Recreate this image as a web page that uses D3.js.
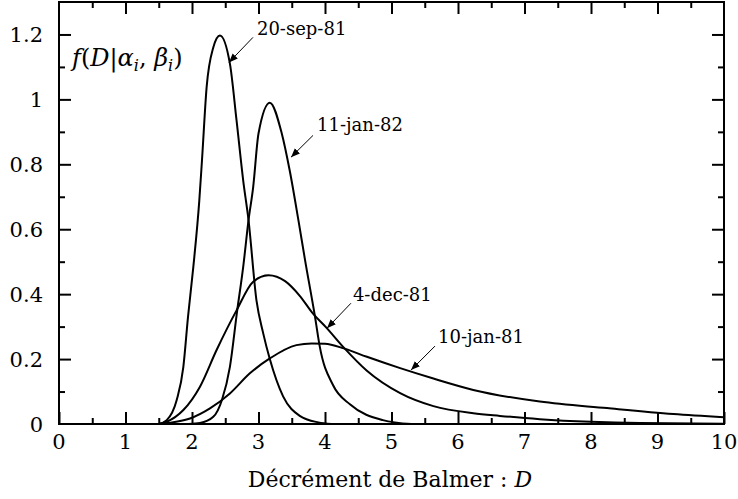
<!DOCTYPE html>
<html>
<head>
<meta charset="utf-8">
<script src="https://cdn.jsdelivr.net/npm/d3@7"></script>
<style>
  html, body { margin: 0; padding: 0; background: #fff; }
  .curve { fill: none; stroke: #000; stroke-width: 2; stroke-linejoin: round; }
</style>
</head>
<body>
<div id="chart"></div>
<script>
// Distributions du décrément de Balmer
const sep81 = [
  [1.5, 0], [1.62, 0.012], [1.77, 0.074], [1.87, 0.176], [1.94, 0.33], [2.02, 0.484],
  [2.11, 0.689], [2.15, 0.812], [2.22, 1.038], [2.32, 1.16], [2.42, 1.197], [2.57, 1.11],
  [2.67, 0.935], [2.77, 0.75], [2.85, 0.628], [2.97, 0.38], [3.07, 0.28], [3.17, 0.2],
  [3.37, 0.085], [3.62, 0.025], [3.9, 0.005], [4.1, 0]
];
const jan82 = [
  [1.95, 0], [2.12, 0.003], [2.32, 0.022], [2.45, 0.074], [2.57, 0.176], [2.68, 0.35],
  [2.77, 0.484], [2.85, 0.628], [2.92, 0.73], [3.0, 0.895], [3.17, 0.99], [3.35, 0.895],
  [3.47, 0.78], [3.6, 0.628], [3.7, 0.505], [3.85, 0.33], [3.92, 0.24], [4.12, 0.12],
  [4.38, 0.06], [4.87, 0.012], [5.3, 0]
];
const dec81 = [
  [1.5, 0], [1.62, 0.007], [1.87, 0.043], [2.12, 0.115], [2.37, 0.228], [2.67, 0.35],
  [2.92, 0.438], [3.15, 0.458], [3.4, 0.44], [3.62, 0.395], [3.82, 0.34], [4.02, 0.297],
  [4.28, 0.236], [4.63, 0.164], [5.13, 0.095], [5.63, 0.055], [6.23, 0.033], [6.63, 0.025],
  [7.23, 0.015], [8.0, 0.007], [8.74, 0.003], [10, 0.001]
];
const jan81 = [
  [1.5, 0], [1.67, 0.004], [1.97, 0.017], [2.27, 0.048], [2.57, 0.094], [2.87, 0.156],
  [3.17, 0.202], [3.57, 0.243], [3.8, 0.248], [4.0, 0.247], [4.28, 0.233], [4.63, 0.207],
  [5.13, 0.172], [5.63, 0.14], [6.23, 0.105], [7.23, 0.069], [8.24, 0.049], [9.24, 0.031],
  [10, 0.021]
];
const seriesList = [sep81, jan82, dec81, jan81];

// étiquettes : texte, pointe de flèche, queue de flèche, début du texte (unités des données)
const labels = ["20-sep-81", "11-jan-82", "4-dec-81", "10-jan-81"];
const arrowTips = [[2.556, 1.114], [3.489, 0.822], [4.03, 0.295], [5.293, 0.166]];
const arrowTails = [[2.917, 1.191], [3.82, 0.889], [4.39, 0.372], [5.654, 0.24]];
const labelPos = [[2.977, 1.197], [3.88, 0.902], [4.42, 0.379], [5.70, 0.249]];

const xTicks = d3.range(0, 11, 1);
const xMinor = d3.range(0.5, 10, 1);
const yTicks = [0, 0.2, 0.4, 0.6, 0.8, 1, 1.2];
const yMinor = [0.1, 0.3, 0.5, 0.7, 0.9, 1.1, 1.3];

const serif = "'DejaVu Serif', serif";
const margin = { top: 2, right: 14, bottom: 75, left: 59 };
const width = 738 - margin.left - margin.right;
const height = 499 - margin.top - margin.bottom;

const root = d3.select("#chart")
  .append("svg")
  .attr("width", 738)
  .attr("height", 499)
  .style("font-family", serif);

const svg = root.append("g")
  .attr("transform", `translate(${margin.left},${margin.top})`);

const x = d3.scaleLinear().domain([0, 10]).range([0, width]);
const y = d3.scaleLinear().domain([0, 1.3]).range([height, 0]);

// flèche
svg.append("defs").append("marker")
  .attr("id", "arrow")
  .attr("viewBox", "0 0 10 10")
  .attr("refX", 10)
  .attr("refY", 5)
  .attr("markerWidth", 9)
  .attr("markerHeight", 9)
  .attr("markerUnits", "userSpaceOnUse")
  .attr("orient", "auto")
  .append("path")
  .attr("d", "M0,1 L10,5 L0,9 Z")
  .attr("fill", "#000");

// axes (graduations intérieures sur les quatre côtés)
const major = 12, minor = 6;
const tickStyle = g => {
  g.select(".domain").remove();
  g.selectAll(".tick line").attr("stroke", "#000").attr("stroke-width", 2);
};

svg.append("g")
  .attr("transform", `translate(0,${height})`)
  .call(d3.axisTop(x).tickValues(xTicks).tickSize(major).tickFormat(""))
  .call(tickStyle);
svg.append("g")
  .attr("transform", `translate(0,${height})`)
  .call(d3.axisTop(x).tickValues(xMinor).tickSize(minor).tickFormat(""))
  .call(tickStyle);
svg.append("g")
  .call(d3.axisBottom(x).tickValues(xTicks.slice(1, -1)).tickSize(major).tickFormat(""))
  .call(tickStyle);
svg.append("g")
  .call(d3.axisBottom(x).tickValues(xMinor).tickSize(minor).tickFormat(""))
  .call(tickStyle);

svg.append("g")
  .call(d3.axisRight(y).tickValues(yTicks.slice(1)).tickSize(major).tickFormat(""))
  .call(tickStyle);
svg.append("g")
  .call(d3.axisRight(y).tickValues(yMinor.slice(0, -1)).tickSize(minor).tickFormat(""))
  .call(tickStyle);
svg.append("g")
  .attr("transform", `translate(${width},0)`)
  .call(d3.axisLeft(y).tickValues(yTicks.slice(1)).tickSize(major).tickFormat(""))
  .call(tickStyle);
svg.append("g")
  .attr("transform", `translate(${width},0)`)
  .call(d3.axisLeft(y).tickValues(yMinor.slice(0, -1)).tickSize(minor).tickFormat(""))
  .call(tickStyle);

// libellés des graduations
svg.append("g")
  .selectAll("text")
  .data(xTicks)
  .enter().append("text")
  .attr("x", d => x(d))
  .attr("y", height + 25)
  .attr("text-anchor", "middle")
  .style("font-size", "21px")
  .text(d => d);

svg.append("g")
  .selectAll("text")
  .data(yTicks)
  .enter().append("text")
  .attr("x", -16)
  .attr("y", d => y(d) + 8)
  .attr("text-anchor", "end")
  .style("font-size", "21px")
  .text(d => d);

// cadre
svg.append("rect")
  .attr("width", width)
  .attr("height", height)
  .attr("fill", "none")
  .attr("stroke", "#000")
  .attr("stroke-width", 2);

// courbes
const line = d3.line()
  .x(d => x(d[0]))
  .y(d => y(d[1]))
  .curve(d3.curveMonotoneX);

svg.selectAll(".curve")
  .data(seriesList)
  .enter().append("path")
  .attr("class", "curve")
  .attr("d", line);

// annotations
svg.append("g")
  .selectAll("line")
  .data(labels)
  .enter().append("line")
  .attr("x1", (d, i) => x(arrowTails[i][0]))
  .attr("y1", (d, i) => y(arrowTails[i][1]))
  .attr("x2", (d, i) => x(arrowTips[i][0]))
  .attr("y2", (d, i) => y(arrowTips[i][1]))
  .attr("stroke", "#000")
  .attr("stroke-width", 1)
  .attr("marker-end", "url(#arrow)");

svg.append("g")
  .selectAll("text")
  .data(labels)
  .enter().append("text")
  .attr("x", (d, i) => x(labelPos[i][0]))
  .attr("y", (d, i) => y(labelPos[i][1]))
  .style("font-size", "18px")
  .text(d => d);

// titre de l'axe y : f(D|α_i, β_i)
const yLabel = svg.append("text")
  .attr("x", 13)
  .attr("y", 64)
  .style("font-size", "24px");
yLabel.append("tspan").style("font-style", "italic").text("f");
yLabel.append("tspan").text("(");
yLabel.append("tspan").style("font-style", "italic").text("D");
yLabel.append("tspan").text("|");
yLabel.append("tspan").style("font-style", "italic").text("α");
yLabel.append("tspan").style("font-style", "italic").style("font-size", "16px").attr("dy", 5).text("i");
yLabel.append("tspan").attr("dy", -5).text(", ");
yLabel.append("tspan").style("font-style", "italic").text("β");
yLabel.append("tspan").style("font-style", "italic").style("font-size", "16px").attr("dy", 5).text("i");
yLabel.append("tspan").attr("dy", -5).text(")");

// titre de l'axe x
const xLabel = svg.append("text")
  .attr("x", 390 - margin.left)
  .attr("y", height + 63)
  .attr("text-anchor", "middle")
  .style("font-size", "22px");
xLabel.append("tspan").text("Décrément de Balmer : ");
xLabel.append("tspan").style("font-style", "italic").text("D");
</script>
</body>
</html>
